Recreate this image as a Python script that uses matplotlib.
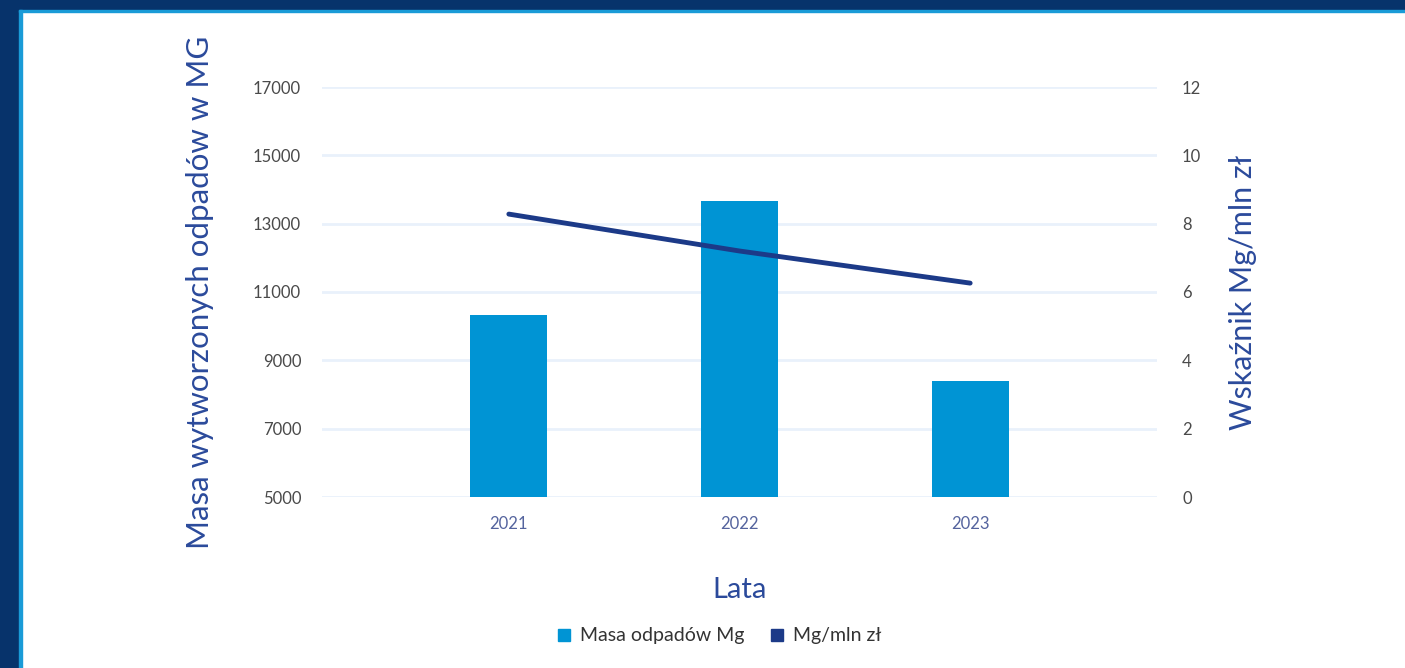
import matplotlib
matplotlib.use('Agg')
import matplotlib.pyplot as plt
from matplotlib.patches import Rectangle
from matplotlib.lines import Line2D
import numpy as np

years = ['2021', '2022', '2023']
masa_mg = [10330, 13660, 8400]
wskaznik = [8.28, 7.2, 6.26]

left_ticks = [5000, 7000, 9000, 11000, 13000, 15000, 17000]
right_ticks = [0, 2, 4, 6, 8, 10, 12]

bar_color = '#0094d4'
line_color = '#1c3a88'
label_color = '#2b4a9b'
tick_color = '#4a4a4a'
grid_color = '#e9f1fb'
navy = '#07336b'
frame_blue = '#1a9bd7'

plt.rcParams['font.family'] = ['Lato', 'DejaVu Sans']

W, H = 1405, 668
fig = plt.figure(figsize=(W / 100, H / 100), dpi=100)
fig.patch.set_facecolor('white')

# navy frame on the left and top with a thin blue inner edge
fig.add_artist(Rectangle((0, 0), 19 / W, 1, transform=fig.transFigure, color=navy, zorder=0))
fig.add_artist(Rectangle((0, 1 - 10 / H), 1, 10 / H, transform=fig.transFigure, color=navy, zorder=0))
fig.add_artist(Rectangle((19 / W, 0), 3 / W, 1 - 10 / H, transform=fig.transFigure, color=frame_blue, zorder=0))
fig.add_artist(Rectangle((19 / W, 1 - 12 / H), 1 - 19 / W, 2 / H, transform=fig.transFigure, color=frame_blue, zorder=0))

ax = fig.add_axes([322 / W, 1 - 497 / H, (1157 - 322) / W, (497 - 87) / H])
ax2 = ax.twinx()

x = np.arange(len(years))
ax.bar(x, np.array(masa_mg) - 5000, bottom=5000, width=0.333, color=bar_color, zorder=3)
ax2.plot(x, wskaznik, color=line_color, lw=3.5, solid_capstyle='round', zorder=4)

ax.set_xlim(-0.81, 2.81)
ax.set_ylim(5000, 17000)
ax2.set_ylim(0, 12)
ax.set_yticks(left_ticks)
ax2.set_yticks(right_ticks)
ax.set_xticks(x)
ax.set_xticklabels(years)

ax.grid(axis='y', color=grid_color, lw=2, zorder=0)
ax.set_axisbelow(True)
for a in (ax, ax2):
    for s in a.spines.values():
        s.set_visible(False)
    a.tick_params(length=0)

ax.tick_params(axis='y', labelsize=12, labelcolor=tick_color, pad=15)
ax2.tick_params(axis='y', labelsize=12, labelcolor=tick_color, pad=18)
ax.tick_params(axis='x', labelsize=12, labelcolor='#55649e', pad=14)

ax.set_ylabel('Masa wytworzonych odpadów w MG', fontsize=22.5, color=label_color, labelpad=28)
ax2.set_ylabel('Wskaźnik Mg/mln zł', fontsize=22, color=label_color, labelpad=20)
ax.set_xlabel('Lata', fontsize=21, color=label_color, labelpad=32)

handles = [
    Line2D([], [], marker='s', ls='none', color=bar_color, markersize=9),
    Line2D([], [], marker='s', ls='none', color=line_color, markersize=9),
]
fig.legend(handles, ['Masa odpadów Mg', 'Mg/mln zł'], loc='center', bbox_to_anchor=(718 / W, 1 - 636 / H),
           ncol=2, frameon=False, fontsize=14, handletextpad=0.3, columnspacing=1.2,
           labelcolor='#333333', handlelength=1.0)

fig.savefig('out.png', dpi=100, facecolor='white')
